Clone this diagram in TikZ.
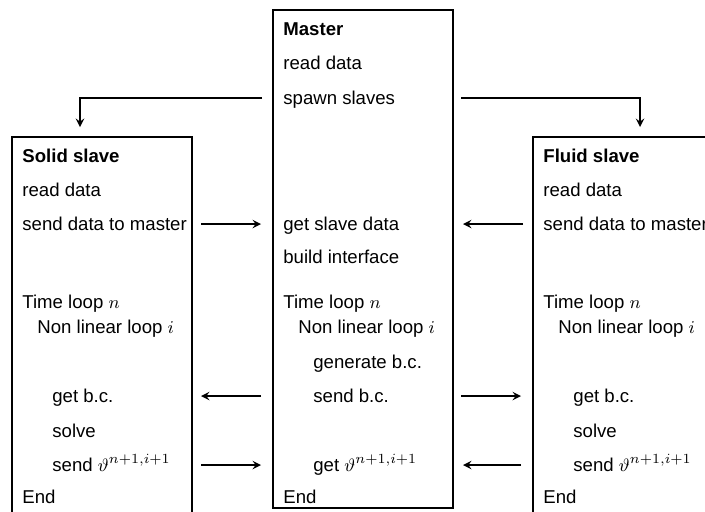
\documentclass[tikz,border=0pt]{standalone}
\usepackage{fontspec}
\setmainfont{Liberation Sans}
\usetikzlibrary{arrows, calc}

\begin{document}
\begin{tikzpicture}[
    x=0.5pt, y=-0.5pt,
    box/.style={rectangle, draw, line width=1pt, minimum width=90pt, inner sep=0pt},
    txt/.style={anchor=base west, inner sep=0pt, font=\fontsize{9.3}{11}\selectfont},
    head/.style={txt, font=\fontsize{9.3}{11}\selectfont\bfseries},
    arrow/.style={line width=0.85pt,->,>=stealth}
]
    \useasboundingbox (0,0) rectangle (705,511);
    \clip (0,0) rectangle (705,511);

    % Boxes
    \node[box, minimum height=194pt] (solid) at (102,331) {};
    \node[box, minimum height=249pt] (master) at (363,259) {};
    \node[box, minimum height=194pt] (fluid) at (623,331) {};

    % Master
    \node[head] (mHead) at (283,35) {Master};
    \node[txt] (mRead) at (283,69) {read data};
    \node[txt] (mSpawn) at (283,104) {spawn slaves};
    \node[txt] (mGet) at (283,230) {get slave data};
    \node[txt] (mBuild) at (283,263) {build interface};
    \node[txt] (mTime) at (283,308) {Time loop $n$};
    \node[txt] (mLoop) at (298,333) {Non linear loop $i$};
    \node[txt] (mGen) at (313,368) {generate b.c.};
    \node[txt] (mSend) at (313,402) {send b.c.};
    \node[txt] (mTheta) at (313,471) {get $\vartheta^{n+1,i+1}$};
    \node[txt] (mEnd) at (283,503) {End};

    % Solid slave
    \node[head] (sHead) at (22,162) {Solid slave};
    \node[txt] (sRead) at (22,196) {read data};
    \node[txt] (sSend) at (22,230) {send data to master};
    \node[txt] (sTime) at (22,308) {Time loop $n$};
    \node[txt] (sLoop) at (37,333) {Non linear loop $i$};
    \node[txt] (sGet) at (52,402) {get b.c.};
    \node[txt] (sSolve) at (52,437) {solve};
    \node[txt] (sTheta) at (52,471) {send $\vartheta^{n+1,i+1}$};
    \node[txt] (sEnd) at (22,503) {End};

    % Fluid slave
    \node[head] (fHead) at (543,162) {Fluid slave};
    \node[txt] (fRead) at (543,196) {read data};
    \node[txt] (fSend) at (543,230) {send data to master};
    \node[txt] (fTime) at (543,308) {Time loop $n$};
    \node[txt] (fLoop) at (558,333) {Non linear loop $i$};
    \node[txt] (fGet) at (573,402) {get b.c.};
    \node[txt] (fSolve) at (573,437) {solve};
    \node[txt] (fTheta) at (573,471) {send $\vartheta^{n+1,i+1}$};
    \node[txt] (fEnd) at (543,503) {End};

    % Spawn
    \coordinate (sIn) at ($(solid.north west)+(69,-9)$);
    \coordinate (fIn) at ($(fluid.north west)+(108,-9)$);
    \draw[arrow] ($(master.west |- mSpawn.base)+(-10,-6)$) -| (sIn);
    \draw[arrow] ($(master.east |- mSpawn.base)+(7,-6)$) -| (fIn);

    % Arrows
    \draw[arrow] ($(solid.east |- sSend.base)+(8,-6)$) -- ($(master.west |- sSend.base)+(-11,-6)$);
    \draw[arrow] ($(fluid.west |- fSend.base)+(-9,-6)$) -- ($(master.east |- fSend.base)+(9,-6)$);
    \draw[arrow] ($(master.west |- mSend.base)+(-11,-6)$) -- ($(solid.east |- mSend.base)+(8,-6)$);
    \draw[arrow] ($(master.east |- mSend.base)+(7,-6)$) -- ($(fluid.west |- mSend.base)+(-11,-6)$);
    \draw[arrow] ($(solid.east |- sTheta.base)+(8,-6)$) -- ($(master.west |- sTheta.base)+(-11,-6)$);
    \draw[arrow] ($(fluid.west |- fTheta.base)+(-11,-6)$) -- ($(master.east |- fTheta.base)+(9,-6)$);
\end{tikzpicture}
\end{document}
